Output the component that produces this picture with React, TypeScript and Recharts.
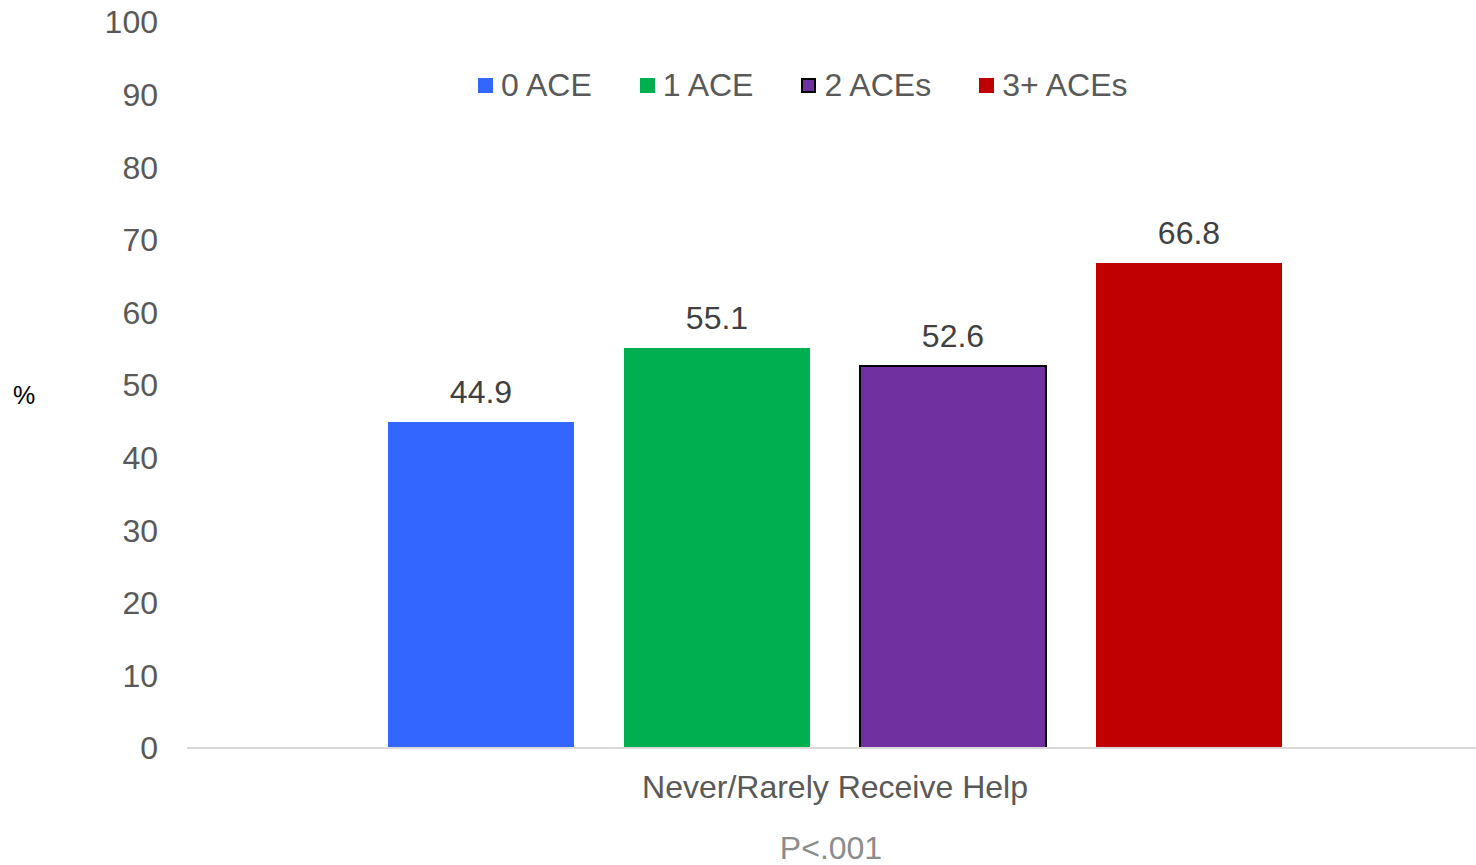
import React from "react";
import { BarChart, Bar, XAxis, YAxis, LabelList, Label } from "recharts";

const categories = ["Never/Rarely Receive Help"];
const seriesNames = ["0 ACE", "1 ACE", "2 ACEs", "3+ ACEs"];
const seriesKeys = ["ace0", "ace1", "ace2", "ace3"];
const seriesValues = [44.9, 55.1, 52.6, 66.8];
const seriesColors = ["#3366FF", "#00B050", "#7030A0", "#C00000"];
const seriesStrokes = ["none", "none", "#000000", "none"];
const yTicks = [0, 10, 20, 30, 40, 50, 60, 70, 80, 90, 100];

const data = categories.map((c) => {
  const row: Record<string, string | number> = { name: c };
  seriesKeys.forEach((k, i) => {
    row[k] = seriesValues[i];
  });
  return row;
});

const FONT = "'Liberation Sans', Arial, sans-serif";

const LegendBox = () => (
  <div
    style={{
      position: "absolute",
      left: 478,
      top: 66,
      display: "flex",
      alignItems: "center",
      fontFamily: FONT,
      fontSize: 32,
      color: "#595959",
      whiteSpace: "nowrap",
      lineHeight: "38px",
    }}
  >
    {seriesNames.map((n, i) => (
      <div key={n} style={{ display: "flex", alignItems: "center", marginRight: i < 3 ? 48 : 0 }}>
        <span
          style={{
            display: "inline-block",
            width: 15,
            height: 15,
            background: seriesColors[i],
            border: seriesStrokes[i] !== "none" ? `2px solid ${seriesStrokes[i]}` : "none",
            boxSizing: "border-box",
            marginRight: 8,
          }}
        />
        <span>{n}</span>
      </div>
    ))}
  </div>
);

export default function App() {
  return (
    <div style={{ position: "absolute", left: 0, top: 0, width: 1476, height: 865, background: "#fff", overflow: "hidden" }}>
      <BarChart
        width={1476}
        height={865}
        data={data}
        margin={{ top: 22, right: -7, bottom: 0, left: 0 }}
        barSize={186}
        barGap={50}
      >
        <XAxis
          dataKey="name"
          height={117}
          axisLine={{ stroke: "#D9D9D9", strokeWidth: 2 }}
          tickLine={false}
          tickMargin={21}
          tick={{ fill: "#595959", fontSize: 32, fontFamily: FONT }}
        >
          <Label
            value="P<.001"
            position="insideBottom"
            offset={6}
            dx={-4}
            style={{ fill: "#8C8C8C", fontSize: 32, fontFamily: FONT }}
          />
        </XAxis>
        <YAxis
          width={187}
          domain={[0, 100]}
          ticks={yTicks}
          interval={0}
          axisLine={false}
          tickLine={false}
          tickMargin={23}
          tick={{ fill: "#595959", fontSize: 32, fontFamily: FONT }}
        >
          <Label
            value="%"
            position="insideLeft"
            offset={13}
            dy={10}
            style={{ fill: "#000000", fontSize: 25, fontFamily: FONT, textAnchor: "start" }}
          />
        </YAxis>
        {seriesKeys.map((k, i) => (
          <Bar
            key={k}
            dataKey={k}
            name={seriesNames[i]}
            fill={seriesColors[i]}
            stroke={seriesStrokes[i]}
            strokeWidth={seriesStrokes[i] !== "none" ? 2 : 0}
            isAnimationActive={false}
          >
            <LabelList
              dataKey={k}
              position="top"
              offset={19}
              style={{ fill: "#404040", fontSize: 32, fontFamily: FONT }}
            />
          </Bar>
        ))}
      </BarChart>
      <LegendBox />
    </div>
  );
}
